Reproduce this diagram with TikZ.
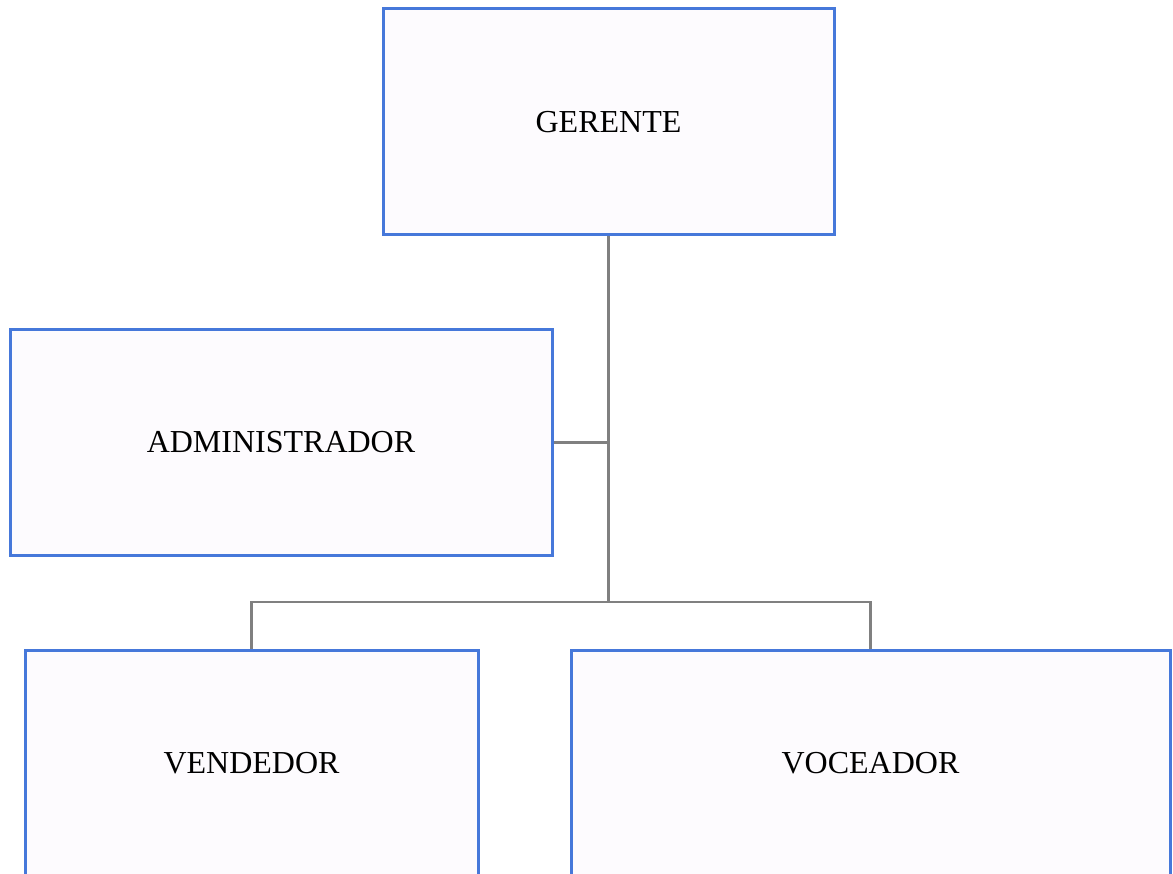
\documentclass[tikz,border=0pt]{standalone}
\usepackage{fontspec}
\setmainfont{Liberation Serif}
\definecolor{boxblue}{RGB}{70,120,218}
\definecolor{boxfill}{RGB}{253,251,254}
\definecolor{linkgray}{RGB}{128,128,128}
\begin{document}
\begin{tikzpicture}[x=1pt,y=-1pt,
  role/.style={draw=boxblue,line width=3pt,fill=boxfill,rectangle,
    inner sep=0pt,font=\fontsize{32}{38}\selectfont},
  link/.style={draw=linkgray,line width=2.8pt}]
  \useasboundingbox (0,0) rectangle (1173,874);
  \clip (0,0) rectangle (1173,874);
  \fill[white] (0,0) rectangle (1173,874);
  % positions of the four roles
  \node[role,minimum width=451pt,minimum height=226pt] (gerente) at (608.5,122) {GERENTE};
  \node[role,minimum width=542pt,minimum height=225pt] (admin) at (281,442.5) {ADMINISTRADOR};
  \node[role,minimum width=453pt,minimum height=226pt] (vendedor) at (251.5,763) {VENDEDOR};
  \node[role,minimum width=599pt,minimum height=226pt] (voceador) at (870.5,763) {VOCEADOR};
  \coordinate (hub) at (608.5,602);
  % reporting lines
  \draw[link] (gerente.south) -- (hub);
  \draw[link] (admin.east) -- (admin.east -| gerente.south);
  \draw[link] (vendedor.north) |- (hub) -| (voceador.north);
\end{tikzpicture}
\end{document}
